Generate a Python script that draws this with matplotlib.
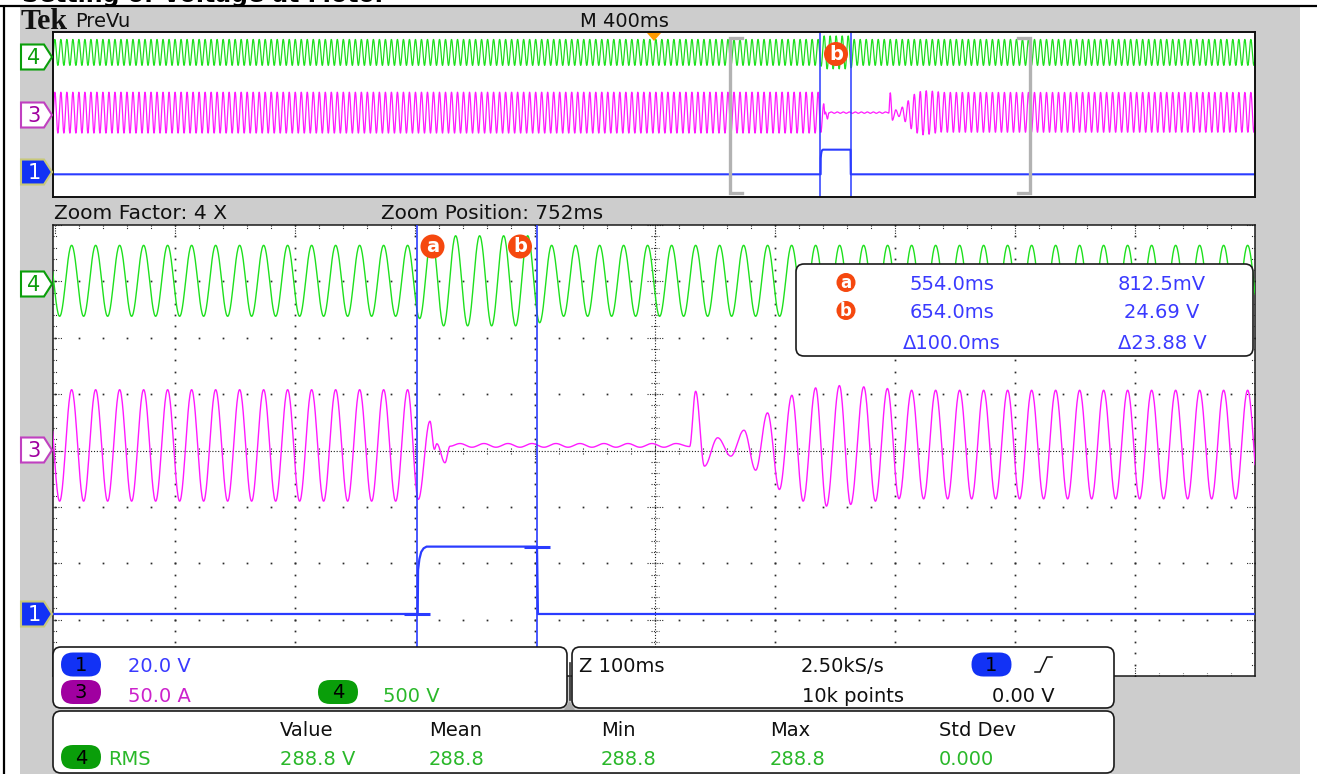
import numpy as np
import matplotlib
matplotlib.use("Agg")
import matplotlib.pyplot as plt
from matplotlib.patches import FancyBboxPatch, Polygon, Circle, Rectangle
from matplotlib.collections import LineCollection

record_ms = [-2000.0, 2000.0]          # PreVu record, M 400 ms/div
zoom_window_ms = [252.0, 1252.0]       # Zoom 4 X, position 752 ms, Z 100 ms/div
sample_step_ms = 0.4                   # 2.50 kS/s
zoom_factor = 4
zoom_position_ms = 752
main_timebase_ms = 400

cursor_ms = [554.0, 654.0]
cursor_names = ["a", "b"]
cursor_volts = [0.8125, 24.69]

volts_per_div = {"1": 20.0, "3": 50.0, "4": 500.0}
ref_offset_div = {"1": -2.9, "3": 0.0, "4": 3.01}

mains_first_peak_ms = 6.2
mains_half_period_ms = 10.0

# ch4 - green, voltage (V)
ch4_steady = [315.0, -315.0]
ch4_window_t = [556.2, 566.2, 576.2, 586.2, 596.2, 606.2, 616.2, 626.2, 636.2, 646.2, 656.2]
ch4_window_v = [-335.0, 400.0, -400.0, 400.0, -400.0, 400.0, -400.0, 400.0, -400.0, 400.0, -372.0]

# ch3 - magenta, current (A)
ch3_before = [54.0, -45.0]
ch3_after = [53.5, -43.0]
ch3_trip_t = [546.2, 555.1, 564.8, 568.5, 570.5, 577.3, 581.5]
ch3_trip_v = [54.0, -43.4, 26.0, 1.0, 6.0, -10.9, 3.8]
ch3_ripple = [6.2, 2.9]
ch3_ripple_window = [589.8, 771.0]
ch3_recover_t = [781.2, 786.2, 793.5, 804.6, 815.5, 826.5, 836.2, 846.1, 856.0, 866.4,
                 875.8, 886.2, 895.2, 906.0, 915.4, 926.3, 936.0, 946.0, 955.7]
ch3_recover_v = [3.5, 52.6, -13.9, 11.3, -5.0, 18.0, -17.5, 33.4, -34.6, 49.0,
                 -45.0, 55.6, -49.4, 57.6, -47.9, 56.5, -45.0, 55.0, -42.8]

# ch1 - blue, control (V)
ch1_t = [-2000.0, 554.6, 554.9, 556.0, 557.5, 559.5, 562.0, 654.0, 654.8, 2000.0]
ch1_v = [0.0, 0.0, 15.6, 19.5, 22.0, 23.3, 23.9, 23.9, 0.0, 0.0]

ch_scale_labels = ["20.0 V", "50.0 A", "500 V"]
meas_headers = ["Value", "Mean", "Min", "Max", "Std Dev"]
meas_values = ["288.8 V", "288.8", "288.8", "288.8", "0.000"]
timebase_texts = ["Z 100ms", "2.50kS/s", "10k points", "0.00 V"]

# ---------------- colours ----------------
GREEN = '#1ee01e'; GREEN_TXT = '#2ab82a'; GREEN_PILL = '#0a9e0a'
MAG = '#ff1aff'; MAG_TXT = '#cc22cc'; PURPLE = '#a000a0'
BLUE = '#2a3cff'; BLUE_TXT = '#3a3aff'; BLUE_PILL = '#1232f5'
ORANGE = '#f5480f'; GRAY = '#cdcdcd'
FONT = 'DejaVu Sans'

W, H = 1317, 774
fig = plt.figure(figsize=(W / 100, H / 100), dpi=100)
fig.patch.set_facecolor('white')


def px_axes(x0, y0, x1, y1, z):
    return fig.add_axes([x0 / W, 1 - y1 / H, (x1 - x0) / W, (y1 - y0) / H], zorder=z)


# background
bg = px_axes(0, 0, W, H, 0)
bg.set_xlim(0, W); bg.set_ylim(H, 0); bg.axis('off')
bg.add_patch(Rectangle((20, 6.5), 1280, H - 6.5, fc=GRAY, ec='none'))
bg.plot([0, W], [5.5, 5.5], color='black', lw=1.6, solid_capstyle='butt')
bg.plot([3.7, 3.7], [5.5, H], color='black', lw=1.6, solid_capstyle='butt')
bg.text(22, 1.8, "Setting of Voltage at Motor", fontsize=17, fontweight='bold',
        family=FONT, va='baseline', color='black')


# ---------------- waveform construction from read extrema ----------------
def steady_extrema(t0, t1, peak, trough):
    k0 = int(np.floor((t0 - mains_first_peak_ms) / mains_half_period_ms)) - 1
    k1 = int(np.ceil((t1 - mains_first_peak_ms) / mains_half_period_ms)) + 1
    ks = np.arange(k0, k1 + 1)
    tt = mains_first_peak_ms + ks * mains_half_period_ms
    vv = np.where(ks % 2 == 0, peak, trough)
    return tt, vv


def render(t, et, ev):
    order = np.argsort(et)
    et = np.asarray(et)[order]; ev = np.asarray(ev)[order]
    idx = np.clip(np.searchsorted(et, t, side='right') - 1, 0, len(et) - 2)
    t0, t1 = et[idx], et[idx + 1]
    v0, v1 = ev[idx], ev[idx + 1]
    s = np.clip((t - t0) / (t1 - t0), 0, 1)
    return v0 + (v1 - v0) * (1 - np.cos(np.pi * s)) / 2


# ch4 extrema
tt, vv = steady_extrema(record_ms[0], record_ms[1], *ch4_steady)
keep = (tt < ch4_window_t[0] - 1) | (tt > ch4_window_t[-1] + 1)
ch4_et = np.concatenate([tt[keep], ch4_window_t])
ch4_ev = np.concatenate([vv[keep], ch4_window_v])

# ch3 extrema
tb, vb = steady_extrema(record_ms[0], ch3_trip_t[0], *ch3_before)
kb = tb < ch3_trip_t[0] - 1
rt = np.arange(ch3_ripple_window[0], ch3_ripple_window[1], mains_half_period_ms)
rv = np.where(np.arange(len(rt)) % 2 == 0, ch3_ripple[0], ch3_ripple[1])
ta, va = steady_extrema(ch3_recover_t[-1], record_ms[1], *ch3_after)
ka = ta > ch3_recover_t[-1] + 1
ch3_et = np.concatenate([tb[kb], ch3_trip_t, rt, ch3_recover_t, ta[ka]])
ch3_ev = np.concatenate([vb[kb], ch3_trip_v, rv, ch3_recover_v, va[ka]])


def to_div(v, ch):
    return np.asarray(v) / volts_per_div[ch] + ref_offset_div[ch]


# ---------------- main (zoomed) view ----------------
MX0, MX1, MY0, MY1 = 53, 1255, 225, 676
pxms = 1.2
xl0 = zoom_window_ms[0] - (54.6 - MX0) / pxms
xl1 = xl0 + (MX1 - MX0) / pxms
ax = px_axes(MX0, MY0, MX1, MY1, 2)
ax.set_xlim(xl0, xl1); ax.set_ylim(-4, 4)
ax.set_xticks([]); ax.set_yticks([])
ax.set_facecolor('white')
for sp in ax.spines.values():
    sp.set_color('#1a1a1a'); sp.set_linewidth(1.1)

pms = (xl1 - xl0) / (MX1 - MX0)   # ms per pixel
pdv = 8.0 / (MY1 - MY0)            # div per pixel
xs_minor = np.arange(zoom_window_ms[0], zoom_window_ms[1] + 0.1, 20)
ys_minor = np.round(np.arange(-4, 4.001, 0.2), 3)
xs_major = np.arange(zoom_window_ms[0], zoom_window_ms[1] + 0.1, 100)
ys_major = np.arange(-4, 5, 1)
xc = zoom_position_ms

# grid dots
dx, dy = [], []
for xm in xs_major[1:-1]:
    if abs(xm - xc) < 1e-6:
        continue
    dx += [xm] * len(ys_minor); dy += list(ys_minor)
for ym in ys_major[1:-1]:
    if ym == 0:
        continue
    dx += list(xs_minor); dy += [ym] * len(xs_minor)
ax.plot(dx, dy, ls='none', marker='s', ms=1.25, mec='none', mfc='#2a2a2a', zorder=1)

# centre lines
ax.axvline(xc, ls=(0, (1, 1.6)), lw=0.8, color='#202020', zorder=1)
ax.axhline(0, ls=(0, (1, 1.6)), lw=0.8, color='#202020', zorder=1)
segs = []
for y in ys_minor:
    L = 8 if abs(y - round(y)) < 1e-6 else 4
    segs.append([(xc - L * pms, y), (xc + L * pms, y)])
for x in xs_minor:
    L = 8 if abs((x - zoom_window_ms[0]) % 100) < 1e-6 else 3.5
    segs.append([(x, -L * pdv), (x, L * pdv)])
# border ticks
for x in xs_minor:
    L = 9 if abs((x - zoom_window_ms[0]) % 100) < 1e-6 else 3.5
    segs.append([(x, 4), (x, 4 - L * pdv)])
    segs.append([(x, -4), (x, -4 + L * pdv)])
for y in ys_minor:
    L = 9 if abs(y - round(y)) < 1e-6 else 3.5
    segs.append([(xl0, y), (xl0 + L * pms, y)])
    segs.append([(xl1, y), (xl1 - L * pms, y)])
ax.add_collection(LineCollection(segs, colors='#2a2a2a', linewidths=0.8,
                                 linestyles=(0, (1, 1.2)), zorder=1))

t_main = np.arange(zoom_window_ms[0] - 2, zoom_window_ms[1] + 2, sample_step_ms)
ax.plot(t_main, to_div(render(t_main, ch4_et, ch4_ev), "4"), color=GREEN, lw=1.0, zorder=3)
ax.plot(t_main, to_div(render(t_main, ch3_et, ch3_ev), "3"), color=MAG, lw=1.0, zorder=3)
ax.plot(ch1_t, to_div(ch1_v, "1"), color=BLUE, lw=1.6, zorder=3)
# cursor lines
for c in cursor_ms:
    ax.axvline(c, color=BLUE, lw=1.2, zorder=4)
# cursor level marks on ch1
lvl = np.interp(cursor_ms, ch1_t, ch1_v)
lvl[1] = ch1_v[6]
for c, v in zip(cursor_ms, lvl):
    ax.plot([c - 10.5, c + 10.5], [to_div(v, "1")] * 2, color=BLUE, lw=2.2,
            solid_capstyle='butt', zorder=4)

# ---------------- overview (PreVu) ----------------
OX0, OX1, OY0, OY1 = 53, 1255, 32, 197
ox = px_axes(OX0, OY0, OX1, OY1, 2)
ox.set_xlim(*record_ms); ox.set_ylim(-4, 4)
ox.set_xticks([]); ox.set_yticks([])
ox.set_facecolor('white')
for sp in ox.spines.values():
    sp.set_color('#101010'); sp.set_linewidth(1.4)
t_ov = np.arange(record_ms[0], record_ms[1], sample_step_ms)
ox.plot(t_ov, to_div(render(t_ov, ch4_et, ch4_ev), "4"), color=GREEN, lw=0.9)
ox.plot(t_ov, to_div(render(t_ov, ch3_et, ch3_ev), "3"), color=MAG, lw=0.9)
ox.plot(ch1_t, to_div(ch1_v, "1"), color=BLUE, lw=1.5)
for c in cursor_ms:
    ox.axvline(c, color=BLUE, lw=1.1)


def x_ov(t):
    return OX0 + (t - record_ms[0]) / (record_ms[1] - record_ms[0]) * (OX1 - OX0)


def x_main(t):
    return MX0 + (t - xl0) / (xl1 - xl0) * (MX1 - MX0)


# ---------------- overlay ----------------
ov = px_axes(0, 0, W, H, 10)
ov.set_xlim(0, W); ov.set_ylim(H, 0); ov.axis('off')


def txt(x, y, s, color='#101010', size=14, ha='left', **kw):
    ov.text(x, y, s, color=color, fontsize=size, ha=ha, va='baseline', family=FONT, **kw)


def rbox(x0, y0, x1, y1, r=8):
    ov.add_patch(FancyBboxPatch((x0, y0), x1 - x0, y1 - y0,
                                boxstyle=f"round,pad=0,rounding_size={r}",
                                fc='white', ec='#1a1a1a', lw=1.2))


def pill(cx, cy, label, fc):
    ov.add_patch(FancyBboxPatch((cx - 20, cy - 12), 40, 24,
                                boxstyle="round,pad=0,rounding_size=12",
                                fc=fc, ec='none'))
    ov.text(cx, cy + 1, label, color='black', fontsize=14, ha='center', va='center', family=FONT)


def marker(cx, cy, label, d=24, size=14):
    ov.add_patch(Circle((cx, cy), d / 2, fc=ORANGE, ec='none'))
    ov.text(cx, cy + 0.5, label, color='white', fontsize=size, fontweight='bold',
            ha='center', va='center', family=FONT)


def tag(cy, label, fc, ec, tc):
    ov.add_patch(Polygon([(21, cy - 12.5), (44, cy - 12.5), (52, cy), (44, cy + 12.5),
                          (21, cy + 12.5)], closed=True, fc=fc, ec=ec, lw=1.5))
    ov.text(34, cy + 1, label, color=tc, fontsize=15, ha='center', va='center', family=FONT)


# header texts
ov.text(21, 29, "Tek", family='Liberation Serif', fontweight='bold', fontsize=21.5,
        va='baseline', color='#111111')
txt(75, 27, "PreVu")
txt(580, 27, f"M {main_timebase_ms}ms")
txt(54, 219, f"Zoom Factor: {zoom_factor} X", size=14.6)
txt(381, 219, f"Zoom Position: {zoom_position_ms}ms", size=14.3)

# trigger marker & zoom brackets on overview
ov.add_patch(Polygon([(647, 33), (661, 33), (654, 41)], closed=True, fc='#ff9a00', ec='none'))
bx0, bx1 = x_ov(zoom_window_ms[0]), x_ov(zoom_window_ms[1])
for bx, sgn in ((bx0, 1), (bx1, -1)):
    ov.plot([bx + sgn * 12, bx, bx, bx + sgn * 12], [37.5, 37.5, 192.5, 192.5],
            color='#b2b2b2', lw=2.4, solid_joinstyle='miter')
marker((x_ov(cursor_ms[0]) + x_ov(cursor_ms[1])) / 2 + 0.5, 54, cursor_names[1])

# channel tags
tag(57, "4", 'white', GREEN_PILL, GREEN_PILL)
tag(115, "3", 'white', '#c040c0', PURPLE)
tag(172, "1", BLUE_PILL, '#c8c87a', 'white')
tag(284, "4", 'white', GREEN_PILL, GREEN_PILL)
tag(450, "3", 'white', '#c040c0', PURPLE)
tag(614, "1", BLUE_PILL, '#c8c87a', 'white')

# cursor markers on main view
marker(x_main(cursor_ms[0]) + 15.5, 246.5, cursor_names[0])
marker(x_main(cursor_ms[1]) - 17, 246.5, cursor_names[1])

# cursor readout
rbox(796, 264, 1253, 356)
marker(846, 282.5, cursor_names[0], d=19, size=12)
marker(846, 310.5, cursor_names[1], d=19, size=12)
txt(952, 290, f"{cursor_ms[0]:.1f}ms", BLUE_TXT, ha='center')
txt(952, 318.5, f"{cursor_ms[1]:.1f}ms", BLUE_TXT, ha='center')
txt(952, 349, f"\u0394{cursor_ms[1] - cursor_ms[0]:.1f}ms", BLUE_TXT, ha='center')
txt(1162, 290, f"{cursor_volts[0] * 1000:.1f}mV", BLUE_TXT, ha='center')
txt(1162, 318.5, f"{cursor_volts[1]:.2f} V", BLUE_TXT, ha='center')
txt(1162, 349, f"\u0394{cursor_volts[1] - cursor_volts[0]:.2f} V", BLUE_TXT, ha='center')

# bottom info boxes
rbox(53, 647, 567, 708)
rbox(572, 647, 1114, 708)
rbox(53, 711, 1114, 773)
ov.plot([569.5, 569.5], [663, 700], color='#303030', lw=1.2)
ov.add_patch(Polygon([(564, 710), (569.5, 701), (575, 710)], closed=True, fc='#a8a8a8', ec='none'))

pill(81, 664.5, "1", BLUE_PILL)
txt(128, 672.5, ch_scale_labels[0], BLUE_TXT)
pill(81, 692, "3", PURPLE)
txt(128, 701.5, ch_scale_labels[1], MAG_TXT)
pill(338, 692, "4", GREEN_PILL)
txt(383, 701.5, ch_scale_labels[2], GREEN_TXT)

txt(579, 672.5, timebase_texts[0])
txt(800.5, 672.5, timebase_texts[1])
pill(991.5, 664.5, "1", BLUE_PILL)
ov.plot([1035, 1040, 1047, 1052], [672, 672, 657, 657], color='#101010', lw=1.1)
txt(801.5, 701.5, timebase_texts[2])
txt(992, 701.5, timebase_texts[3])

col_x = [280, 429, 601, 770, 939]
for x, h in zip(col_x, meas_headers):
    txt(x, 736, h)
pill(81, 757, "4", GREEN_PILL)
txt(108.5, 765, "RMS", GREEN_TXT)
for x, v in zip(col_x, meas_values):
    txt(x, 765, v, GREEN_TXT)

fig.savefig("out.png", dpi=100, facecolor='white')
